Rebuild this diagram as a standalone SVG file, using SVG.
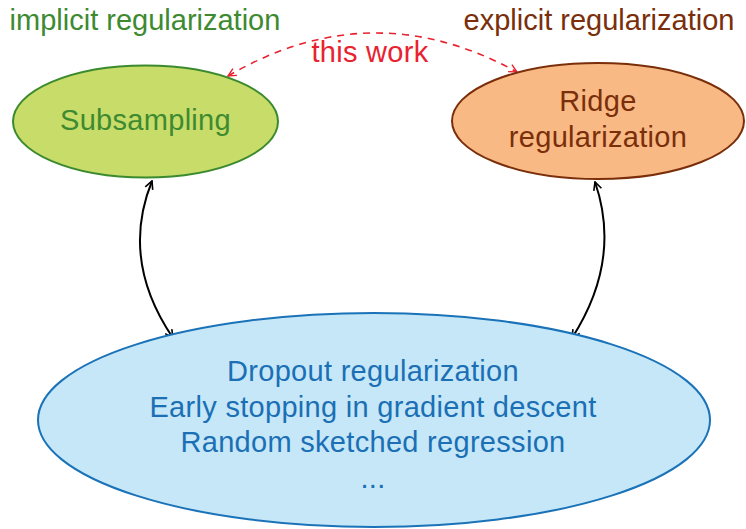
<svg xmlns="http://www.w3.org/2000/svg" width="746" height="529" viewBox="0 0 746 529">
<defs>
<style>
text{font-family:"Liberation Sans",Arial,sans-serif;font-size:29px;text-anchor:middle;letter-spacing:0.3px}
.lbl{letter-spacing:0}
.conn{fill:none;stroke:#000;stroke-width:2}
.dash{fill:none;stroke:#e8222e;stroke-width:1.6;stroke-dasharray:7 6}
</style>
<marker id="ak" viewBox="0 0 10 10" refX="9" refY="5" markerWidth="10" markerHeight="10" markerUnits="userSpaceOnUse" orient="auto-start-reverse"><path d="M1,1 L9,5 L1,9" fill="none" stroke="#000" stroke-width="1.6"/></marker>
<marker id="ar" viewBox="0 0 10 10" refX="9" refY="5" markerWidth="10" markerHeight="10" markerUnits="userSpaceOnUse" orient="auto-start-reverse"><path d="M1,1 L9,5 L1,9" fill="none" stroke="#e8222e" stroke-width="1.4"/></marker>
</defs>
<rect width="746" height="529" fill="#fff"/>
<text class="lbl" x="145" y="30" fill="#3d8a30">implicit regularization</text>
<text class="lbl" x="599" y="30" fill="#7a2e0a">explicit regularization</text>
<g id="connectors">
<path class="dash" d="M228,76 Q372,-8 517,72" marker-start="url(#ar)" marker-end="url(#ar)"/>
<path class="conn" d="M152,181 Q120,260 173,338" marker-start="url(#ak)" marker-end="url(#ak)"/>
<path class="conn" d="M595,182 Q622,260 572,338" marker-start="url(#ak)" marker-end="url(#ak)"/>
<text x="370" y="62" fill="#e8222e">this work</text>
</g>
<g id="subsampling">
<ellipse cx="145.5" cy="121.5" rx="132.5" ry="56" fill="#c8dc6a" stroke="#3c8a2e" stroke-width="2"/>
<text x="145.5" y="130" fill="#3d8a30">Subsampling</text>
</g>
<g id="ridge">
<ellipse cx="598" cy="121" rx="146" ry="58" fill="#f8b984" stroke="#7a2e0a" stroke-width="2"/>
<text x="598" y="111" fill="#7a2e0a">Ridge</text>
<text x="598" y="147" fill="#7a2e0a">regularization</text>
</g>
<g id="methods">
<ellipse cx="374" cy="420" rx="336" ry="107" fill="#c5e7f7" stroke="#1a72b8" stroke-width="2"/>
<text x="373" y="381" fill="#1a6fb5">Dropout regularization</text>
<text x="373" y="417" fill="#1a6fb5">Early stopping in gradient descent</text>
<text x="373" y="452" fill="#1a6fb5">Random sketched regression</text>
<text x="373" y="488" fill="#1a6fb5">...</text>
</g>
</svg>
